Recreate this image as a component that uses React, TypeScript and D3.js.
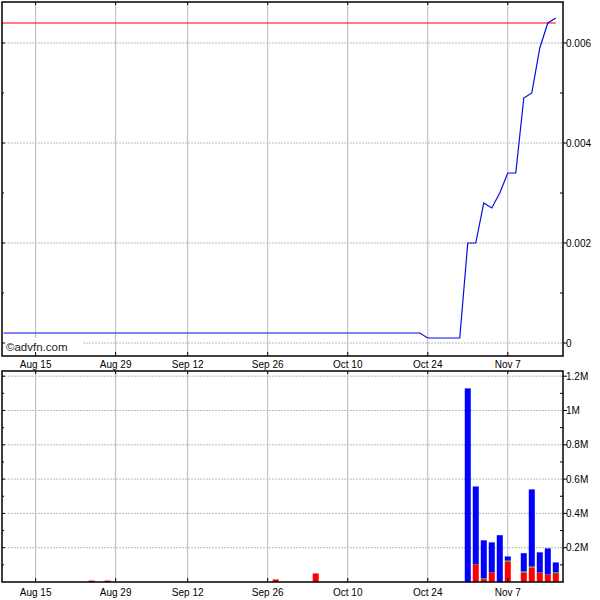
import * as d3 from "d3";

// x positions are trading-day indices (weekends / holidays skipped)
const tickDays = [4, 14, 23, 33, 43, 53, 63];
const tickLabels = ["Aug 15", "Aug 29", "Sep 12", "Sep 26", "Oct 10", "Oct 24", "Nov 7"];

// price line vertices (day index, price)
const priceDays = [0, 52, 53, 57, 58, 59, 60, 61, 62, 63, 64, 65, 66, 67, 68, 69];
const priceValues = [
  0.0002, 0.0002, 0.0001, 0.0001, 0.002, 0.002, 0.0028, 0.0027, 0.003, 0.0034,
  0.0034, 0.0049, 0.005, 0.0059, 0.0064, 0.0065,
];
const refPrice = 0.0064;

// volume, millions of shares
const volDays = [11, 13, 34, 39, 58, 59, 60, 61, 62, 63, 65, 66, 67, 68, 69];
const volSell = [0.008, 0.008, 0.015, 0.05, 0, 0.103, 0.017, 0.056, 0, 0.12, 0.056, 0.085, 0.056, 0.044, 0.052];
const volNeutral = [0, 0, 0, 0, 0, 0, 0.005, 0, 0, 0.005, 0.006, 0.005, 0, 0, 0.005];
const volBuy = [0, 0, 0, 0, 1.129, 0.454, 0.221, 0.175, 0.273, 0.024, 0.106, 0.45, 0.117, 0.152, 0.057];

const priceTicks = [0, 0.002, 0.004, 0.006];
const priceMinor = [0.001, 0.003, 0.005];
const volTicks = [0.2, 0.4, 0.6, 0.8, 1, 1.2];
const volMinor = [0.1, 0.3, 0.5, 0.7, 0.9, 1.1];

const L = 2;
const R = 563;
const font = "'Liberation Sans', Arial, sans-serif";
const gridV = "#b8b8b8";
const gridH = "#a8c6c6";

export default function App() {
  const x = d3.scaleLinear().domain([-0.2, 69.9]).range([L, R]);
  const yP = d3.scaleLinear().domain([0, 0.006]).range([343, 43]);
  const yV = d3.scaleLinear().domain([0, 1.2]).range([582, 376.2]);

  const top = { y0: 2, y1: 356 };
  const bot = { y0: 371, y1: 582 };

  const line = d3
    .line<number>()
    .x((d, i) => x(priceDays[i]))
    .y((d) => yP(d));

  const stacks = volDays.map((day, i) => {
    const s = volSell[i];
    const n = volNeutral[i];
    const b = volBuy[i];
    return [
      { lo: 0, hi: s, color: "#ff0000" },
      { lo: s, hi: s + n, color: "#00c000" },
      { lo: s + n, hi: s + n + b, color: "#0000ff" },
    ].map((p) => ({ ...p, day }));
  });

  const fmtP = (v: number) => (v === 0 ? "0" : d3.format(".3f")(v));
  const fmtV = (v: number) => `${v}M`;

  return (
    <div style={{ position: "fixed", left: 0, top: 0, background: "#fff" }}>
      <svg width={600} height={600} style={{ display: "block" }} fontFamily={font}>
        <rect width={600} height={600} fill="#fff" />

        {/* top panel grid */}
        {tickDays.map((d) => (
          <line key={"tv" + d} x1={x(d)} x2={x(d)} y1={top.y0} y2={top.y1} stroke={gridV} />
        ))}
        {priceTicks.map((v) => (
          <line key={"th" + v} x1={L} x2={R} y1={yP(v)} y2={yP(v)} stroke={v === 0 ? gridV : gridH} strokeDasharray="2,1" />
        ))}

        {/* copyright box */}
        <rect x={L} y={338} width={80} height={top.y1 - 338} fill="#fff" />
        <text x={6} y={351} fontSize={11.5} fill="#222">©advfn.com</text>

        {/* reference price & price line */}
        <line x1={L} x2={x(69)} y1={yP(refPrice)} y2={yP(refPrice)} stroke="#ff0000" strokeWidth={1.2} />
        <path d={line(priceValues) ?? ""} fill="none" stroke="#0a0ae6" strokeWidth={1.2} />

        {/* top frame */}
        <rect x={L} y={top.y0} width={R - L} height={top.y1 - top.y0} fill="none" stroke="#000" strokeWidth={1.5} />
        {tickDays.map((d) => (
          <g key={"tt" + d} stroke="#000">
            <line x1={x(d)} x2={x(d)} y1={top.y0} y2={top.y0 + 3} />
            <line x1={x(d)} x2={x(d)} y1={top.y1} y2={top.y1 - 4} />
          </g>
        ))}
        {priceTicks.map((v) => (
          <g key={"pt" + v}>
            <line x1={R} x2={R + 4} y1={yP(v)} y2={yP(v)} stroke="#000" />
            <line x1={L} x2={L + 3} y1={yP(v)} y2={yP(v)} stroke="#000" />
            <text x={566} y={yP(v)} dy="0.35em" fontSize={10} fill="#000">{fmtP(v)}</text>
          </g>
        ))}
        {priceMinor.map((v) => (
          <g key={"pm" + v} stroke="#000">
            <line x1={R - 3} x2={R} y1={yP(v)} y2={yP(v)} />
            <line x1={L} x2={L + 2} y1={yP(v)} y2={yP(v)} />
          </g>
        ))}
        {tickDays.map((d, i) => (
          <text key={"tl" + d} x={x(d)} y={367.5} textAnchor="middle" fontSize={10} fill="#000">
            {tickLabels[i]}
          </text>
        ))}

        {/* bottom panel grid */}
        {tickDays.map((d) => (
          <line key={"bv" + d} x1={x(d)} x2={x(d)} y1={bot.y0} y2={bot.y1} stroke={gridV} />
        ))}
        {volTicks.map((v) => (
          <line key={"bh" + v} x1={L} x2={R} y1={yV(v)} y2={yV(v)} stroke={gridH} strokeDasharray="2,1" />
        ))}

        {/* volume bars */}
        {stacks.map((parts) =>
          parts
            .filter((p) => p.hi > p.lo)
            .map((p, j) => (
              <rect
                key={"v" + p.day + "-" + j}
                x={x(p.day) - 3}
                width={6}
                y={yV(p.hi)}
                height={yV(p.lo) - yV(p.hi)}
                fill={p.color}
              />
            ))
        )}

        {/* bottom frame */}
        <rect x={L} y={bot.y0} width={R - L} height={bot.y1 - bot.y0} fill="none" stroke="#000" strokeWidth={1.5} />
        {tickDays.map((d) => (
          <g key={"bt" + d} stroke="#000">
            <line x1={x(d)} x2={x(d)} y1={bot.y0} y2={bot.y0 + 3} />
            <line x1={x(d)} x2={x(d)} y1={bot.y1} y2={bot.y1 - 4} />
          </g>
        ))}
        {volTicks.map((v) => (
          <g key={"vt" + v}>
            <line x1={R} x2={R + 4} y1={yV(v)} y2={yV(v)} stroke="#000" />
            <line x1={L} x2={L + 3} y1={yV(v)} y2={yV(v)} stroke="#000" />
            <text x={566} y={yV(v)} dy="0.35em" fontSize={10} fill="#000">{fmtV(v)}</text>
          </g>
        ))}
        {volMinor.map((v) => (
          <g key={"vm" + v} stroke="#000">
            <line x1={R - 3} x2={R} y1={yV(v)} y2={yV(v)} />
            <line x1={L} x2={L + 2} y1={yV(v)} y2={yV(v)} />
          </g>
        ))}
        {tickDays.map((d, i) => (
          <text key={"bl" + d} x={x(d)} y={596} textAnchor="middle" fontSize={10} fill="#000">
            {tickLabels[i]}
          </text>
        ))}
      </svg>
    </div>
  );
}
